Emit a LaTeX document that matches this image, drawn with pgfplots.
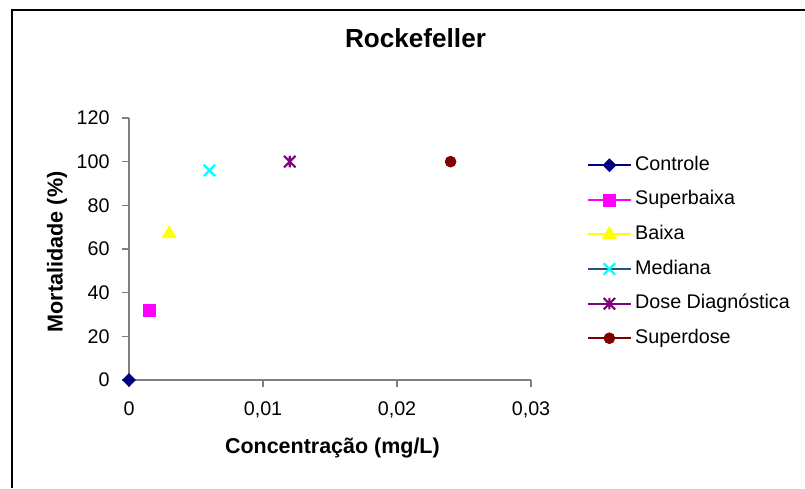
\documentclass[border=0pt]{standalone}
\usepackage{fontspec}
\setmainfont{Liberation Sans}
\usepackage{pgfplots}
\pgfplotsset{compat=1.18}
\definecolor{cNavy}{RGB}{0,0,128}
\definecolor{cMag}{RGB}{255,0,255}
\definecolor{cYel}{RGB}{255,255,0}
\definecolor{cCyan}{RGB}{0,255,255}
\definecolor{cSteel}{RGB}{40,80,130}
\definecolor{cPurp}{RGB}{128,0,128}
\definecolor{cMaroon}{RGB}{128,0,0}
\definecolor{cAxis}{RGB}{128,128,128}
\pgfdeclareplotmark{xlstar}{%
  \pgfpathmoveto{\pgfqpoint{-\pgfplotmarksize}{-\pgfplotmarksize}}%
  \pgfpathlineto{\pgfqpoint{\pgfplotmarksize}{\pgfplotmarksize}}%
  \pgfpathmoveto{\pgfqpoint{-\pgfplotmarksize}{\pgfplotmarksize}}%
  \pgfpathlineto{\pgfqpoint{\pgfplotmarksize}{-\pgfplotmarksize}}%
  \pgfpathmoveto{\pgfqpoint{0pt}{-\pgfplotmarksize}}%
  \pgfpathlineto{\pgfqpoint{0pt}{\pgfplotmarksize}}%
  \pgfusepathqstroke}
\pgfdeclareplotmark{xcross}{%
  \pgfpathmoveto{\pgfqpoint{-\pgfplotmarksize}{-\pgfplotmarksize}}%
  \pgfpathlineto{\pgfqpoint{\pgfplotmarksize}{\pgfplotmarksize}}%
  \pgfpathmoveto{\pgfqpoint{-\pgfplotmarksize}{\pgfplotmarksize}}%
  \pgfpathlineto{\pgfqpoint{\pgfplotmarksize}{-\pgfplotmarksize}}%
  \pgfusepathqstroke}
\begin{document}
\begin{tikzpicture}
\useasboundingbox (0,0) rectangle (603.75pt,366pt);
\draw[line width=1.5pt,black] (9pt,0pt) -- (9pt,358.5pt) -- (603.75pt,358.5pt);
\begin{axis}[
  at={(96.75pt,81pt)}, anchor=south west,
  scale only axis, width=301.5pt, height=196.5pt,
  xmin=0, xmax=0.03, ymin=0, ymax=120,
  clip=false,
  scaled x ticks=false, scaled y ticks=false,
  axis x line*=bottom, axis y line*=left,
  axis line style={draw=cAxis, line width=1pt, -},
  tick style={draw=cAxis, line width=1pt},
  tick align=outside, major tick length=5.25pt,
  xtick={0,0.01,0.02,0.03},
  xticklabels={0,{0,01},{0,02},{0,03}},
  ytick={0,20,40,60,80,100,120},
  yticklabels={0,20,40,60,80,100,120},
  ticklabel style={font=\fontsize{14.8}{17}\selectfont, text=black},
  xticklabel style={yshift=-7.5pt},
  yticklabel style={xshift=-5.75pt},
  title={Rockefeller},
  title style={font=\fontsize{19.6}{22}\selectfont\bfseries, at={(axis description cs:0.7127,1.240)}, anchor=base},
  xlabel={Concentração (mg/L)},
  xlabel style={font=\fontsize{16.1}{19}\selectfont\bfseries, at={(axis description cs:0.506,-0.279)}, anchor=base},
  ylabel={Mortalidade (\%)},
  ylabel style={font=\fontsize{16.2}{19}\selectfont\bfseries, at={(axis description cs:-0.179,0.489)}, anchor=center, rotate=0},
  legend style={draw=none, fill=none, inner sep=0pt, outer sep=0pt,
    at={(axis description cs:1.139,0.854)}, anchor=north west,
    font=\fontsize{14.8}{17}\selectfont, row sep=12.45pt, column sep=2.5pt,
    nodes={inner sep=0pt, text height=10.5pt, text depth=3pt}},
  legend cell align=left,
  legend image code/.code={\draw[mark repeat=2,mark phase=2,#1] plot coordinates {(0pt,0pt)(16.125pt,0pt)(32.25pt,0pt)};},
]
\addplot[cNavy, line width=1.5pt, mark=square*, mark size=3.4pt, mark options={rotate=45, fill=cNavy, draw=cNavy, line width=0.5pt}] coordinates {(0,0)};
\addlegendentry{Controle}
\addplot[cMag, line width=1.5pt, mark=square*, mark size=4.5pt, mark options={fill=cMag, draw=cMag, line width=0.5pt}] coordinates {(0.0015,32)};
\addlegendentry{Superbaixa}
\addplot[cYel, line width=1.5pt, mark=triangle*, mark size=6pt, mark options={fill=cYel, draw=cYel, line width=0.5pt}] coordinates {(0.003,67)};
\addlegendentry{Baixa}
\addplot[cSteel, line width=1.5pt, mark=xcross, mark size=4.3pt, mark options={draw=cCyan, line width=1.6pt}] coordinates {(0.006,96)};
\addlegendentry{Mediana}
\addplot[cPurp, line width=1.5pt, mark=xlstar, mark size=4.3pt, mark options={draw=cPurp, line width=1.6pt}] coordinates {(0.012,100)};
\addlegendentry{Dose Diagnóstica}
\addplot[cMaroon, line width=1.5pt, mark=*, mark size=4.1pt, mark options={fill=cMaroon, draw=cMaroon, line width=0.5pt}] coordinates {(0.024,100)};
\addlegendentry{Superdose}
\end{axis}
\end{tikzpicture}
\end{document}
